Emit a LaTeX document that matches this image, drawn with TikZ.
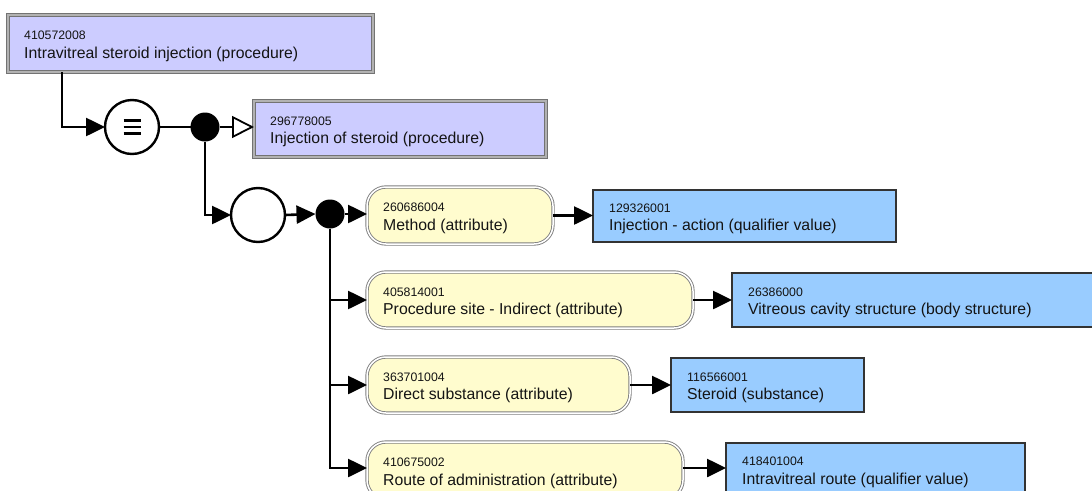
\documentclass[tikz,border=0pt]{standalone}
\usepackage{fontspec}
\setmainfont{Liberation Sans}
\usetikzlibrary{arrows.meta,calc}
\definecolor{lav}{RGB}{204,204,255}
\definecolor{sky}{RGB}{153,204,255}
\definecolor{attr}{RGB}{255,252,206}
\definecolor{txt}{RGB}{20,20,20}
\newcommand{\boxlabels}[3]{%
  \node[codetext] (#1-c) at ($(#1.west)+(16,-4)$) {#2};
  \node[nametext] (#1-n) at ($(#1.west)+(16,14.5)$) {#3};}
\begin{document}
\begin{tikzpicture}[x=1pt,y=-1pt,
  conceptbox/.style={draw=black!55, double=black!30, double distance=2pt, line width=1pt, fill=lav, inner sep=0pt, outer sep=0pt},
  attrbox/.style={draw=black!50, double=white, double distance=1.5pt, line width=0.9pt, fill=attr, rounded corners=19pt, inner sep=0pt, outer sep=0pt},
  valuebox/.style={draw=black!80, line width=2pt, fill=sky, inner sep=0pt, outer sep=0pt},
  codetext/.style={anchor=base west, inner sep=0pt, text=txt, font=\fontsize{12.3}{14}\selectfont},
  nametext/.style={anchor=base west, inner sep=0pt, text=txt, font=\fontsize{15.8}{18}\selectfont},
  opcircle/.style={circle, draw, line width=2.4pt, fill=white, minimum size=54pt, inner sep=0pt, outer sep=0pt},
  blackdot/.style={circle, fill=black, minimum size=29pt, inner sep=0pt, outer sep=0pt},
  conn/.style={line width=2.6pt, -{Triangle[length=19pt,width=18pt]}},
  plainconn/.style={line width=2.6pt},
  isaconn/.style={line width=2.6pt, -{Triangle[open,fill=white,length=22pt,width=22pt,line width=1.8pt]}}
]
\useasboundingbox (0,0) rectangle (1092,490);
\fill[white] (0,0) rectangle (1092,490);

% concept boxes
\node[conceptbox, minimum width=365pt, minimum height=57pt] (b1) at (190.5,43.5) {};
\boxlabels{b1}{410572008}{Intravitreal steroid injection (procedure)}
\node[conceptbox, minimum width=292pt, minimum height=56pt] (b2) at (400,129) {};
\boxlabels{b2}{296778005}{Injection of steroid (procedure)}

% operator circles and dots
\node[opcircle] (eq) at (132,127) {};
\draw[line width=2.4pt] ($(eq.center)+(-8.5,-6.5)$) -- ++(17,0)
                        ($(eq.center)+(-8.5,0)$) -- ++(17,0)
                        ($(eq.center)+(-8.5,6.5)$) -- ++(17,0);
\node[blackdot] (d1) at (205,127) {};
\node[opcircle] (c2) at (258,215) {};
\node[blackdot] (d2) at (330,214) {};

% attribute boxes
\node[attrbox, minimum width=186pt, minimum height=57pt] (a1) at (460,215.5) {};
\boxlabels{a1}{260686004}{Method (attribute)}
\node[attrbox, minimum width=326pt, minimum height=56pt] (a2) at (530,300) {};
\boxlabels{a2}{405814001}{Procedure site - Indirect (attribute)}
\node[attrbox, minimum width=263pt, minimum height=56pt] (a3) at (498.5,385) {};
\boxlabels{a3}{363701004}{Direct substance (attribute)}
\node[attrbox, minimum width=316pt, minimum height=57pt] (a4) at (525,470.5) {};
\boxlabels{a4}{410675002}{Route of administration (attribute)}

% value boxes
\node[valuebox, minimum width=303pt, minimum height=52pt] (v1) at (744.5,216) {};
\boxlabels{v1}{129326001}{Injection - action (qualifier value)}
\node[valuebox, minimum width=370pt, minimum height=54pt] (v2) at (917,300) {};
\boxlabels{v2}{26386000}{Vitreous cavity structure (body structure)}
\node[valuebox, minimum width=193pt, minimum height=54pt] (v3) at (767.5,385) {};
\boxlabels{v3}{116566001}{Steroid (substance)}
\node[valuebox, minimum width=299pt, minimum height=53pt] (v4) at (875.5,469.5) {};
\boxlabels{v4}{418401004}{Intravitreal route (qualifier value)}

% connector anchor points
\coordinate (a4in) at ($(a4.west)+(0,-2.5)$);
\coordinate (a4out) at ($(a4.east)+(0,-2.5)$);

% connectors
\draw[conn] ($(b1.south west)+(54,0)$) |- (eq.west);
\draw[plainconn] (eq.east) -- (d1.west);
\draw[isaconn] (d1.east) -- (d1.east -| b2.west);
\draw[conn] (d1.south) |- (c2.west);
\draw[conn] (c2.east) -- (d2.west);
\draw[conn] (d2.east) -- (d2.east -| a1.west);
\draw[conn] (d2.south) |- (a2.west);
\draw[conn] (d2.south) |- (a3.west);
\draw[conn] (d2.south) |- (a4in);
\draw[conn] (a1.east) -- (a1.east -| v1.west);
\draw[conn] (a2.east) -- (a2.east -| v2.west);
\draw[conn] (a3.east) -- (a3.east -| v3.west);
\draw[conn] (a4out) -- (a4out -| v4.west);
\end{tikzpicture}
\end{document}
